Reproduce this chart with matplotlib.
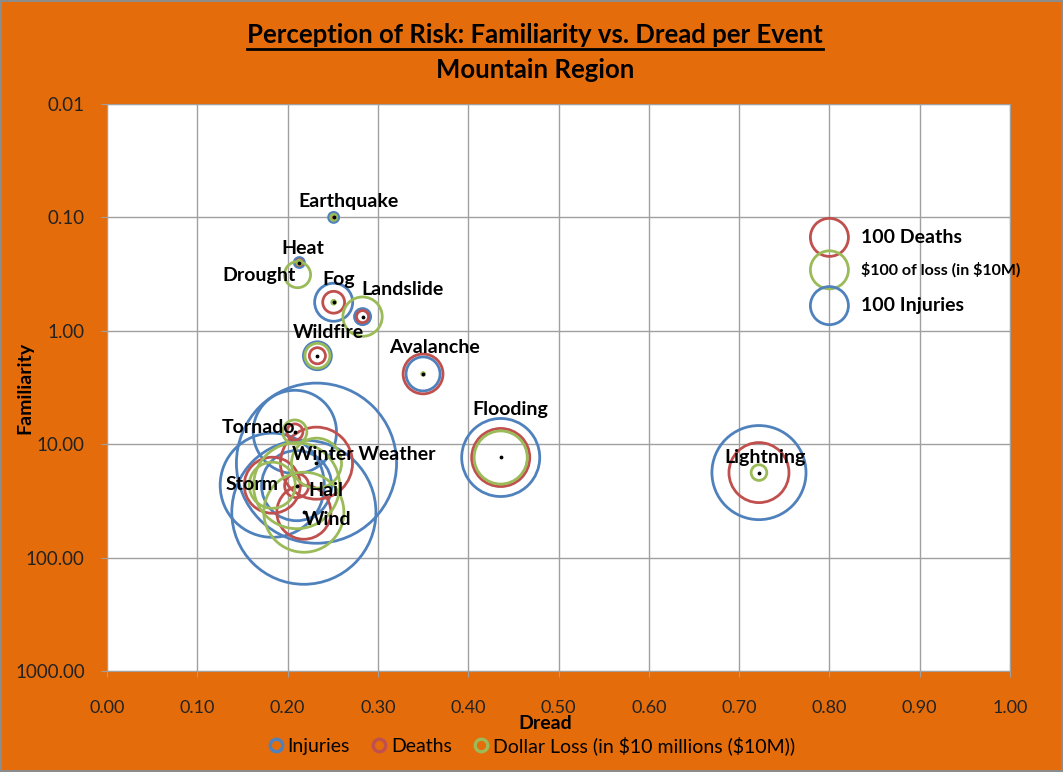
import numpy as np
import matplotlib
matplotlib.use("Agg")
from matplotlib import pyplot as plt
from matplotlib.lines import Line2D

plt.rcParams['font.family'] = ['Lato', 'DejaVu Sans']

# event data: dread (x), familiarity (y), bubble values
events = ["Earthquake", "Heat", "Drought", "Fog", "Landslide", "Wildfire", "Avalanche",
          "Flooding", "Lightning", "Tornado", "Winter Weather", "Storm", "Hail", "Wind"]
dread = [0.251, 0.213, 0.211, 0.251, 0.283, 0.233, 0.350,
         0.436, 0.722, 0.208, 0.232, 0.183, 0.210, 0.218]
familiarity = [0.10, 0.25, 0.32, 0.56, 0.75, 1.66, 2.40,
               13.1, 17.8, 7.8, 14.7, 23.0, 23.2, 39.8]
injuries = [7, 7, 0, 100, 18, 54, 80, 421, 612, 480, 1773, 750, 340, 1436]
deaths = [0.5, 2.5, 0, 33, 10, 18, 110, 233, 249, 18, 359, 217, 40, 202]
dollar_loss = [2.5, 1.5, 47, 1, 107, 43, 0.5, 195, 17, 40, 173, 147, 512, 443]
has_dot = [1, 1, 0, 1, 1, 1, 1, 1, 1, 1, 1, 0, 1, 1]

# reference bubbles
ref_labels = ["100 Deaths", "\\$100 of loss (in \\$10M)", "100 Injuries"]
ref_y = [0.15, 0.29, 0.60]
ref_x = [0.80, 0.80, 0.80]
ref_val = [100, 100, 100]

# label offsets in pixels (dx, dy, ha)
label_off = {
    "Earthquake": (15, 16, "center"), "Heat": (3, 14, "center"), "Drought": (-2, -1, "right"),
    "Fog": (5, 23, "center"), "Landslide": (-1, 27, "left"), "Wildfire": (11, 23, "center"),
    "Avalanche": (11, 26, "center"), "Flooding": (10, 48, "center"), "Lightning": (6, 15, "center"),
    "Tornado": (0, 4, "right"), "Winter Weather": (-24, 9, "left"), "Storm": (6, 1, "right"),
    "Hail": (12, -5, "left"), "Wind": (0, -7, "left"),
}

blue = '#4F81BD'
red = '#C0504D'
green = '#9BBB59'
orange = '#E46C0A'
size_scale = 7.5

fig = plt.figure(figsize=(10.63, 7.72), dpi=100, facecolor=orange)
fig.patch.set_edgecolor('#8c8c8c')
fig.patch.set_linewidth(1.5)
ax = fig.add_axes([107/1063, 101/772, 903/1063, 567/772])
ax.set_facecolor('white')

ax.scatter(dread, familiarity, s=np.array(injuries)*size_scale, facecolors='none',
           edgecolors=blue, linewidths=2.0, zorder=3)
ax.scatter(dread, familiarity, s=np.array(deaths)*size_scale, facecolors='none',
           edgecolors=red, linewidths=2.0, zorder=3)
ax.scatter(dread, familiarity, s=np.array(dollar_loss)*size_scale, facecolors='none',
           edgecolors=green, linewidths=2.0, zorder=3)
dx_dot = [d for d, h in zip(dread, has_dot) if h]
dy_dot = [f for f, h in zip(familiarity, has_dot) if h]
ax.scatter(dx_dot, dy_dot, s=3, color='black', zorder=4)

ref_colors = [red, green, blue]
for i in range(3):
    ax.scatter(ref_x[i], ref_y[i], s=ref_val[i]*size_scale, facecolors='none',
               edgecolors=ref_colors[i], linewidths=2.0, zorder=3)
    fs = 11.5 if i == 1 else 14
    ax.annotate(ref_labels[i], (ref_x[i], ref_y[i]), xytext=(23, 0), textcoords='offset points',
                ha='left', va='center', fontsize=fs, fontweight='bold', zorder=5)

for i, ev in enumerate(events):
    dx, dy, ha = label_off[ev]
    ax.annotate(ev, (dread[i], familiarity[i]), xytext=(dx*0.72, dy*0.72), textcoords='offset points',
                ha=ha, va='center', fontsize=14, fontweight='bold', zorder=5)

ax.set_yscale('log')
ax.set_ylim(1000, 0.01)
ax.set_xlim(0, 1)
ax.set_xticks(np.arange(0, 1.01, 0.1))
ax.set_yticks([0.01, 0.1, 1, 10, 100, 1000])
ax.yaxis.set_minor_locator(matplotlib.ticker.NullLocator())
ax.xaxis.set_major_formatter(matplotlib.ticker.FuncFormatter(lambda v, p: f"{v:.2f}"))
ax.yaxis.set_major_formatter(matplotlib.ticker.FuncFormatter(lambda v, p: f"{v:.2f}"))
ax.grid(True, color='#a0a0a0', linewidth=1.0, zorder=0)
ax.set_axisbelow(True)
for sp in ax.spines.values():
    sp.set_color('#a0a0a0')
ax.tick_params(axis='x', length=4, color='#a0a0a0', pad=17, labelsize=13, labelcolor='#222222')
ax.tick_params(axis='y', length=4, color='#a0a0a0', pad=12, labelsize=13.5, labelcolor='#222222')

ax.set_xlabel("Dread", fontsize=14, fontweight='bold')
ax.xaxis.set_label_coords(0.485, -0.077)
ax.set_ylabel("Familiarity", fontsize=14, fontweight='bold')
ax.yaxis.set_label_coords(-0.082, 0.5)

handles = [Line2D([], [], marker='o', linestyle='none', markersize=9, markerfacecolor='none',
                  markeredgecolor=c, markeredgewidth=2.4) for c in [blue, red, green]]
fig.legend(handles, ["Injuries", "Deaths", "Dollar Loss (in \\$10 millions (\\$10M))"],
           loc='center', bbox_to_anchor=(0.499, 0.034),
           ncol=3, frameon=False, fontsize=14,
           handletextpad=0.1, columnspacing=1.0, handlelength=1.0)

t = fig.text(0.503, 1 - 35/772, "Perception of Risk: Familiarity vs. Dread per Event",
             ha='center', va='center', fontsize=18.5, fontweight='bold')
fig.text(0.503, 1 - 70/772, "Mountain Region", ha='center', va='center', fontsize=18.5, fontweight='bold')

fig.canvas.draw()
bb = t.get_window_extent().transformed(fig.transFigure.inverted())
fig.add_artist(Line2D([bb.x0, bb.x1], [bb.y0 - 0.002, bb.y0 - 0.002], color='black',
                      linewidth=2.0, transform=fig.transFigure))

fig.savefig("out.png", dpi=100, facecolor=fig.get_facecolor(), edgecolor=fig.get_edgecolor())
